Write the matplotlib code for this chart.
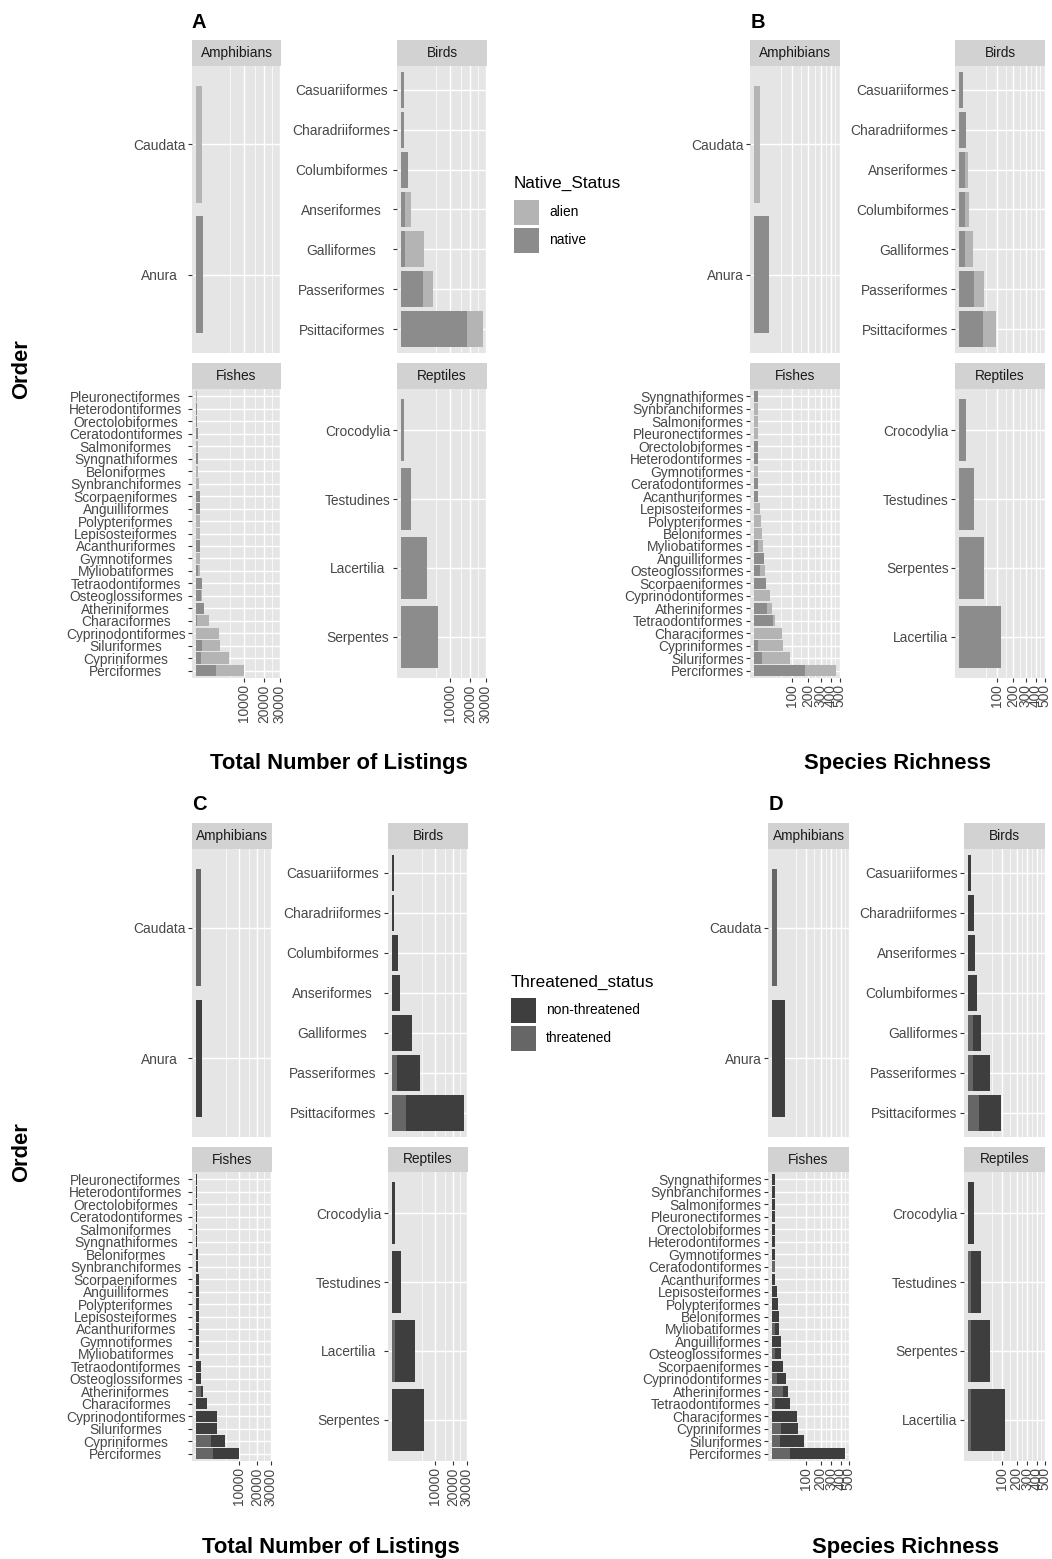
import numpy as np
import matplotlib
matplotlib.use('Agg')
import matplotlib.pyplot as plt
from matplotlib.patches import Rectangle

plt.rcParams['font.family'] = ['Liberation Sans', 'DejaVu Sans']

# ---------------- data (orders listed top to bottom as drawn) ----------------
amph_order = ['Caudata', 'Anura']
bird_order_lst = ['Casuariiformes', 'Charadriiformes', 'Columbiformes', 'Anseriformes',
                  'Galliformes', 'Passeriformes', 'Psittaciformes']
bird_order_spp = ['Casuariiformes', 'Charadriiformes', 'Anseriformes', 'Columbiformes',
                  'Galliformes', 'Passeriformes', 'Psittaciformes']
fish_order_lst = ['Pleuronectiformes', 'Heterodontiformes', 'Orectolobiformes', 'Ceratodontiformes',
                  'Salmoniformes', 'Syngnathiformes', 'Beloniformes', 'Synbranchiformes',
                  'Scorpaeniformes', 'Anguilliformes', 'Polypteriformes', 'Lepisosteiformes',
                  'Acanthuriformes', 'Gymnotiformes', 'Myliobatiformes', 'Tetraodontiformes',
                  'Osteoglossiformes', 'Atheriniformes', 'Characiformes', 'Cyprinodontiformes',
                  'Siluriformes', 'Cypriniformes', 'Perciformes']
fish_order_spp = ['Syngnathiformes', 'Synbranchiformes', 'Salmoniformes', 'Pleuronectiformes',
                  'Orectolobiformes', 'Heterodontiformes', 'Gymnotiformes', 'Ceratodontiformes',
                  'Acanthuriformes', 'Lepisosteiformes', 'Polypteriformes', 'Beloniformes',
                  'Myliobatiformes', 'Anguilliformes', 'Osteoglossiformes', 'Scorpaeniformes',
                  'Cyprinodontiformes', 'Atheriniformes', 'Tetraodontiformes', 'Characiformes',
                  'Cypriniformes', 'Siluriformes', 'Perciformes']
rept_order_lst = ['Crocodylia', 'Testudines', 'Lacertilia', 'Serpentes']
rept_order_spp = ['Crocodylia', 'Testudines', 'Serpentes', 'Lacertilia']

# A: total number of listings by native status
lst_amph_native = [0, 212]
lst_amph_alien = [150, 0]
lst_bird_native = [32, 32, 225, 78, 66, 2060, 18400]
lst_bird_alien = [0, 0, 0, 312, 2184, 2240, 9600]
lst_fish_native = [0, 7, 8, 10, 0, 14, 0, 0, 55, 58, 0, 0, 66, 0, 18, 130, 100, 255, 8, 0,
                   140, 110, 1750]
lst_fish_alien = [6, 0, 0, 0, 11, 0, 20, 28, 0, 0, 60, 62, 0, 70, 57, 0, 40, 20, 712, 2350,
                  2340, 4540, 8250]
lst_rept_native = [45, 420, 2880, 5600]
lst_rept_alien = [0, 0, 0, 0]

# B: species richness by native status
spp_amph_native = [0, 15]
spp_amph_alien = [2, 0]
spp_bird_native = [1, 3, 2, 2, 2, 16, 39]
spp_bird_alien = [0, 0, 3, 5, 12, 26, 54]
spp_fish_native = [1, 0, 0, 0, 1, 1, 0, 1, 1, 0, 0, 0, 1, 7, 2, 10, 0, 11, 24, 0, 1, 4, 179]
spp_fish_alien = [0, 1, 1, 1, 0, 0, 1, 0, 0, 2, 3, 4, 4, 0, 6, 0, 17, 12, 5, 53, 55, 83, 276]
spp_rept_native = [3, 16, 42, 118]
spp_rept_alien = [0, 0, 0, 0]

# C: total number of listings by threatened status
lst_amph_threat = [150, 0]
lst_amph_nonthreat = [0, 212]
lst_bird_threat = [0, 0, 0, 0, 0, 128, 1150]
lst_bird_nonthreat = [32, 32, 225, 390, 2250, 4172, 26850]
lst_fish_threat = [0, 0, 0, 0, 0, 0, 0, 0, 0, 0, 0, 0, 0, 0, 0, 0, 0, 128, 0, 0, 0, 1250, 1540]
lst_fish_nonthreat = [6, 7, 8, 10, 11, 14, 20, 28, 55, 58, 60, 62, 66, 70, 75, 130, 140, 147,
                      720, 2350, 2480, 3400, 8460]
lst_rept_threat = [0, 0, 55, 0]
lst_rept_nonthreat = [45, 420, 2825, 5600]

# D: species richness by threatened status
spp_amph_threat = [2, 0]
spp_amph_nonthreat = [0, 15]
spp_bird_threat = [0, 0, 0, 0, 2, 2, 10]
spp_bird_nonthreat = [1, 3, 5, 7, 12, 40, 83]
spp_fish_threat = [0, 0, 0, 0, 0, 0, 0, 1, 0, 0, 0, 0, 1, 0, 1, 0, 2, 11, 1, 0, 8, 6, 28]
spp_fish_nonthreat = [1, 1, 1, 1, 1, 1, 1, 0, 1, 2, 3, 4, 4, 7, 7, 10, 15, 12, 28, 53, 48, 81, 427]
spp_rept_threat = [0, 1, 1, 1]
spp_rept_nonthreat = [3, 15, 41, 117]

lst_major = [10000, 20000, 30000]
lst_minor = [5000, 15000, 25000]
spp_major = [100, 200, 300, 400, 500]
spp_minor = [50, 150, 250, 350, 450]

# ---------------- style ----------------
W, H = 1052, 1559
BG = '#e5e5e5'
STRIP = '#d2d2d2'
ALIEN, NATIVE = '#b4b4b4', '#8c8c8c'
NONTHR, THR = '#3e3e3e', '#666666'
TXT = '#474747'
FS = 9.9

fig = plt.figure(figsize=(W / 100, H / 100), dpi=100)


def fwd(x):
    return np.sign(x) * np.sqrt(np.abs(x))


def inv(x):
    return np.sign(x) * np.square(x)


def facet(x0, x1, ys, yt, yb, title, orders, first, second, colors, smax, major, minor, bottom):
    fig.patches.append(Rectangle((x0 / W, 1 - yt / H), (x1 - x0) / W, (yt - ys) / H,
                                 transform=fig.transFigure, facecolor=STRIP, lw=0))
    fig.text((x0 + x1) / 2 / W, 1 - (ys + yt) / 2 / H, title, ha='center', va='center',
             fontsize=FS, color='#1a1a1a')
    ax = fig.add_axes([x0 / W, 1 - yb / H, (x1 - x0) / W, (yb - yt) / H])
    n = len(orders)
    y = np.arange(n)[::-1]
    ax.barh(y, first, height=0.9, color=colors[0], lw=0)
    ax.barh(y, second, left=first, height=0.9, color=colors[1], lw=0)
    ax.set_xscale('function', functions=(fwd, inv))
    s = np.sqrt(smax)
    ax.set_xlim(inv(-0.05 * s), inv(1.05 * s))
    ax.set_ylim(-0.6, n - 0.4)
    ax.set_yticks(y, orders)
    ax.set_xticks(major, [str(v) for v in major], rotation=90)
    ax.set_xticks(minor, minor=True)
    ax.set_facecolor(BG)
    for sp in ax.spines.values():
        sp.set_visible(False)
    ax.set_axisbelow(True)
    ax.grid(which='major', color='white', lw=1.0)
    ax.grid(which='minor', axis='x', color='white', lw=0.5)
    ax.tick_params(which='major', length=2.6, width=0.8, color='#333333',
                   labelsize=FS, labelcolor=TXT, pad=2)
    ax.tick_params(which='minor', length=0)
    if not bottom:
        ax.tick_params(axis='x', which='major', length=0, labelbottom=False)
    return ax


def panel(cols, rows, facets, colors, major, minor):
    smax = max(max(np.add(f[2], f[3])) for f in facets)
    axes = []
    for k, (title, orders, first, second) in enumerate(facets):
        x0, x1 = cols[k % 2]
        ys, yt, yb = rows[k // 2]
        axes.append(facet(x0, x1, ys, yt, yb, title, orders, first, second, colors,
                          smax, major, minor, k // 2 == 1))
    return axes


rows_top = ((40, 66, 353), (363, 389, 678))
rows_bot = ((823, 849, 1137), (1147, 1172, 1461))

axes_A = panel(((192, 281), (397, 487)), rows_top,
               [('Amphibians', amph_order, lst_amph_native, lst_amph_alien),
                ('Birds', bird_order_lst, lst_bird_native, lst_bird_alien),
                ('Fishes', fish_order_lst, lst_fish_native, lst_fish_alien),
                ('Reptiles', rept_order_lst, lst_rept_native, lst_rept_alien)],
               (NATIVE, ALIEN), lst_major, lst_minor)
axes_B = panel(((750, 840), (955, 1045)), rows_top,
               [('Amphibians', amph_order, spp_amph_native, spp_amph_alien),
                ('Birds', bird_order_spp, spp_bird_native, spp_bird_alien),
                ('Fishes', fish_order_spp, spp_fish_native, spp_fish_alien),
                ('Reptiles', rept_order_spp, spp_rept_native, spp_rept_alien)],
               (NATIVE, ALIEN), spp_major, spp_minor)
axes_C = panel(((192, 272), (388, 468)), rows_bot,
               [('Amphibians', amph_order, lst_amph_threat, lst_amph_nonthreat),
                ('Birds', bird_order_lst, lst_bird_threat, lst_bird_nonthreat),
                ('Fishes', fish_order_lst, lst_fish_threat, lst_fish_nonthreat),
                ('Reptiles', rept_order_lst, lst_rept_threat, lst_rept_nonthreat)],
               (THR, NONTHR), lst_major, lst_minor)
axes_D = panel(((768, 849), (964, 1045)), rows_bot,
               [('Amphibians', amph_order, spp_amph_threat, spp_amph_nonthreat),
                ('Birds', bird_order_spp, spp_bird_threat, spp_bird_nonthreat),
                ('Fishes', fish_order_spp, spp_fish_threat, spp_fish_nonthreat),
                ('Reptiles', rept_order_spp, spp_rept_threat, spp_rept_nonthreat)],
               (THR, NONTHR), spp_major, spp_minor)

# A and C have centred order labels
fig.canvas.draw()
renderer = fig.canvas.get_renderer()
for ax in axes_A + axes_C:
    wmax = max(t.get_window_extent(renderer).width for t in ax.get_yticklabels())
    ax.tick_params(axis='y', pad=2 + wmax / 2 * 0.72)
    for t in ax.get_yticklabels():
        t.set_ha('center')


def ftext(x, y, s, **kw):
    fig.text(x / W, 1 - y / H, s, **kw)


# panel letters
for lab, x, y in [('A', 192, 28), ('B', 751, 28), ('C', 192, 810), ('D', 769, 810)]:
    ftext(x, y, lab, fontsize=14.5, fontweight='bold', va='baseline')

# axis titles
for x, y, s in [(339, 763, 'Total Number of Listings'), (897, 763, 'Species Richness'),
                (331, 1547, 'Total Number of Listings'), (906, 1547, 'Species Richness')]:
    ftext(x, y, s, fontsize=15.8, fontweight='bold', ha='center', va='center')
for y in (369, 1152):
    ftext(22, y, 'Order', fontsize=15.8, fontweight='bold', rotation=90, ha='center', va='center')


# legends
def legend(x, ytitle, title, labels, colors, ykeys):
    ftext(x, ytitle, title, fontsize=12.3, va='center')
    for lab, col, yk in zip(labels, colors, ykeys):
        fig.patches.append(Rectangle((x / W, 1 - (yk + 25) / H), 25 / W, 25 / H,
                                     transform=fig.transFigure, facecolor=col, lw=0))
        ftext(x + 35, yk + 12.5, lab, fontsize=FS, va='center')


legend(514, 183, 'Native_Status', ['alien', 'native'], [ALIEN, NATIVE], [200, 228])
legend(511, 982, 'Threatened_status', ['non-threatened', 'threatened'], [NONTHR, THR], [998, 1026])

fig.savefig('out.png', dpi=100, facecolor='white')
